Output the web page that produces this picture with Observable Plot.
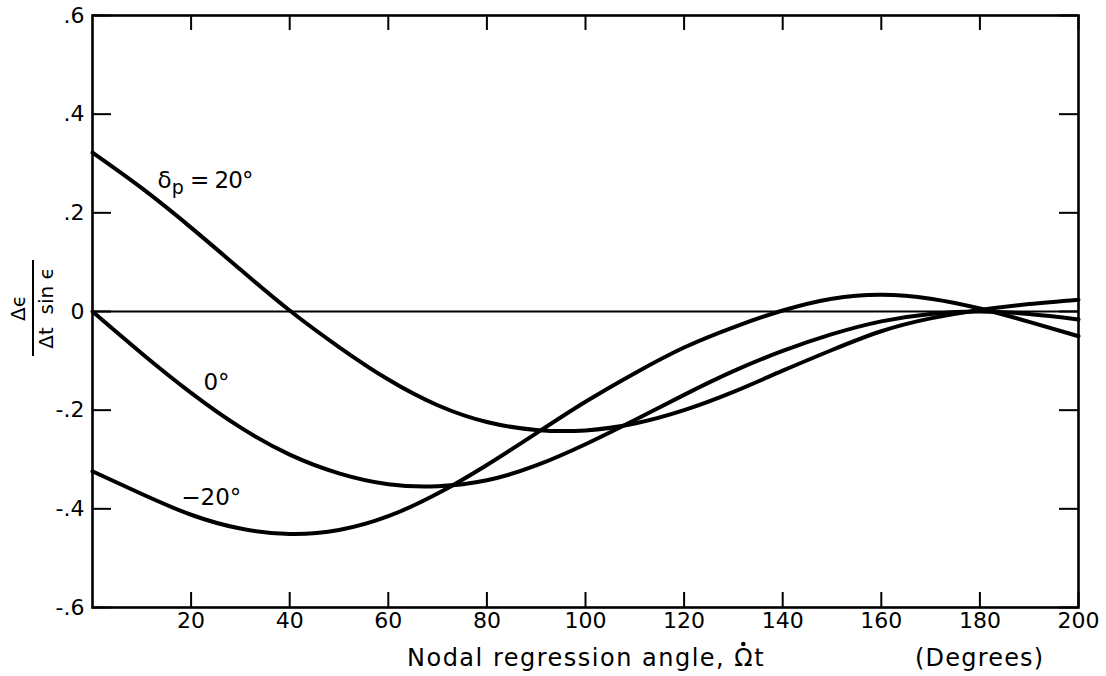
<!DOCTYPE html>
<html>
<head>
<meta charset="utf-8">
<script src="https://cdn.jsdelivr.net/npm/d3@7"></script>
<script src="https://cdn.jsdelivr.net/npm/@observablehq/plot@0.6"></script>
<style>
  html, body { margin: 0; padding: 0; background: #fff; }
  #chart svg { display: block; }
</style>
</head>
<body>
<div id="chart"></div>
<script>
// Nodal regression angle (degrees)
const angles = [0, 10, 20, 30, 40, 50, 60, 70, 80, 90, 100, 110, 120, 130, 140, 150, 160, 170, 180, 190, 200];
// Δε / (Δt sin ε) for δp = 20°, 0°, −20°
const plus20 = [0.322, 0.25, 0.17, 0.085, 0.002, -0.072, -0.138, -0.19, -0.224, -0.24, -0.241, -0.227, -0.2, -0.163, -0.12, -0.078, -0.04, -0.014, 0.003, 0.015, 0.024];
const zero = [0, -0.085, -0.165, -0.235, -0.29, -0.328, -0.35, -0.354, -0.342, -0.312, -0.269, -0.22, -0.169, -0.121, -0.08, -0.046, -0.02, -0.005, 0.0, -0.005, -0.016];
const minus20 = [-0.324, -0.37, -0.412, -0.44, -0.451, -0.443, -0.415, -0.369, -0.311, -0.247, -0.183, -0.125, -0.073, -0.032, 0.002, 0.026, 0.034, 0.026, 0.006, -0.021, -0.05];
const seriesNames = ["δp = 20°", "0°", "−20°"];
const xTicks = [20, 40, 60, 80, 100, 120, 140, 160, 180, 200];
const yTicks = [-0.6, -0.4, -0.2, 0, 0.2, 0.4, 0.6];
// curve labels (annotation anchors, data units)
const labelText = ["δp=20°", "0°", "−20°"];
const labelX = [13.2, 22.5, 18];
const labelY = [0.266, -0.144, -0.377];

const data = [];
[plus20, zero, minus20].forEach((vals, i) => {
  vals.forEach((v, j) => data.push({series: seriesNames[i], x: angles[j], y: v}));
});
const labels = labelText.map((t, i) => ({t, x: labelX[i], y: labelY[i]}));

const W = 1106, H = 676;
const mL = 92, mR = 28, mT = 15, mB = 69;
const pw = W - mL - mR, ph = H - mT - mB;
const xDom = [0, 200], yDom = [-0.6, 0.6];
// inward tick lengths (pixels) converted to data units
const tickLenY = 15 * (yDom[1] - yDom[0]) / ph;  // vertical ticks on x axes
const tickLenX = 19 * (xDom[1] - xDom[0]) / pw;  // horizontal ticks on y axes
const fmtY = d => d === 0 ? "0" : (d < 0 ? "-" : "") + d3.format(".1f")(Math.abs(d)).replace(/^0/, "");
const font = "DejaVu Sans";

const chart = Plot.plot({
  width: W, height: H,
  marginLeft: mL, marginRight: mR, marginTop: mT, marginBottom: mB,
  style: {fontFamily: font, fontSize: "22px", background: "#fff", color: "#000", overflow: "visible"},
  x: {domain: xDom},
  y: {domain: yDom},
  marks: [
    Plot.ruleY([0], {stroke: "#000", strokeWidth: 2}),
    Plot.line(data, {x: "x", y: "y", z: "series", curve: "natural", stroke: "#000", strokeWidth: 4}),
    // inward ticks: bottom, top, left, right
    Plot.ruleX(xTicks, {x: d => d, y1: yDom[0], y2: yDom[0] + tickLenY, stroke: "#000", strokeWidth: 2}),
    Plot.ruleX(xTicks, {x: d => d, y1: yDom[1], y2: yDom[1] - tickLenY, stroke: "#000", strokeWidth: 2}),
    Plot.ruleY(yTicks, {y: d => d, x1: xDom[0], x2: xDom[0] + tickLenX, stroke: "#000", strokeWidth: 2}),
    Plot.ruleY(yTicks, {y: d => d, x1: xDom[1], x2: xDom[1] - tickLenX, stroke: "#000", strokeWidth: 2}),
    Plot.axisX(xTicks, {tickSize: 0, tickPadding: 5, label: null, tickFormat: d => String(d), fontSize: 22}),
    Plot.axisY(yTicks, {tickSize: 0, tickPadding: 8, label: null, tickFormat: fmtY, fontSize: 22}),
    Plot.frame({stroke: "#000", strokeWidth: 2.6}),
    Plot.text(labels, {x: "x", y: "y", text: "t", textAnchor: "start", fontSize: 23, fill: "#000", className: "curve-label"})
  ]
});
document.getElementById("chart").appendChild(chart);

const svg = d3.select(chart);

// subscript p in the δp label
svg.selectAll(".curve-label text").each(function() {
  const t = d3.select(this);
  if (t.text().startsWith("δp")) {
    t.text("");
    t.append("tspan").text("δ");
    t.append("tspan").attr("dy", 6).attr("font-size", 19).text("p");
    t.append("tspan").attr("dy", -6).text(" = 20°").attr("letter-spacing", "-1");
  }
});

// axis titles
const xt = svg.append("text")
  .attr("x", 407).attr("y", 666)
  .attr("text-anchor", "start")
  .attr("font-family", font).attr("font-size", 24).attr("fill", "#000")
  .attr("letter-spacing", "1.5")
  .text("Nodal regression angle, Ωt");
// dot above Ω (Ω̇)
const node = xt.node();
const idx = node.textContent.indexOf("Ω");
const p0 = node.getStartPositionOfChar(idx), p1 = node.getEndPositionOfChar(idx);
svg.append("circle")
  .attr("cx", (p0.x + p1.x) / 2 - 1).attr("cy", 666 - 22).attr("r", 2.3)
  .attr("fill", "#000");
svg.append("text")
  .attr("x", 915).attr("y", 666)
  .attr("text-anchor", "start")
  .attr("font-family", font).attr("font-size", 24).attr("fill", "#000")
  .attr("letter-spacing", "1.2")
  .text("(Degrees)");
const g = svg.append("g").attr("transform", "translate(33,308) rotate(-90)");
g.append("text").attr("x", 0).attr("y", -8).attr("text-anchor", "middle")
  .attr("font-family", font).attr("font-size", 20).attr("fill", "#000").text("Δϵ");
g.append("line").attr("x1", -48).attr("x2", 48).attr("y1", 0).attr("y2", 0)
  .attr("stroke", "#000").attr("stroke-width", 2);
g.append("text").attr("x", 0).attr("y", 20).attr("text-anchor", "middle")
  .attr("font-family", font).attr("font-size", 20).attr("fill", "#000").text("Δt  sin ϵ");
</script>
</body>
</html>
